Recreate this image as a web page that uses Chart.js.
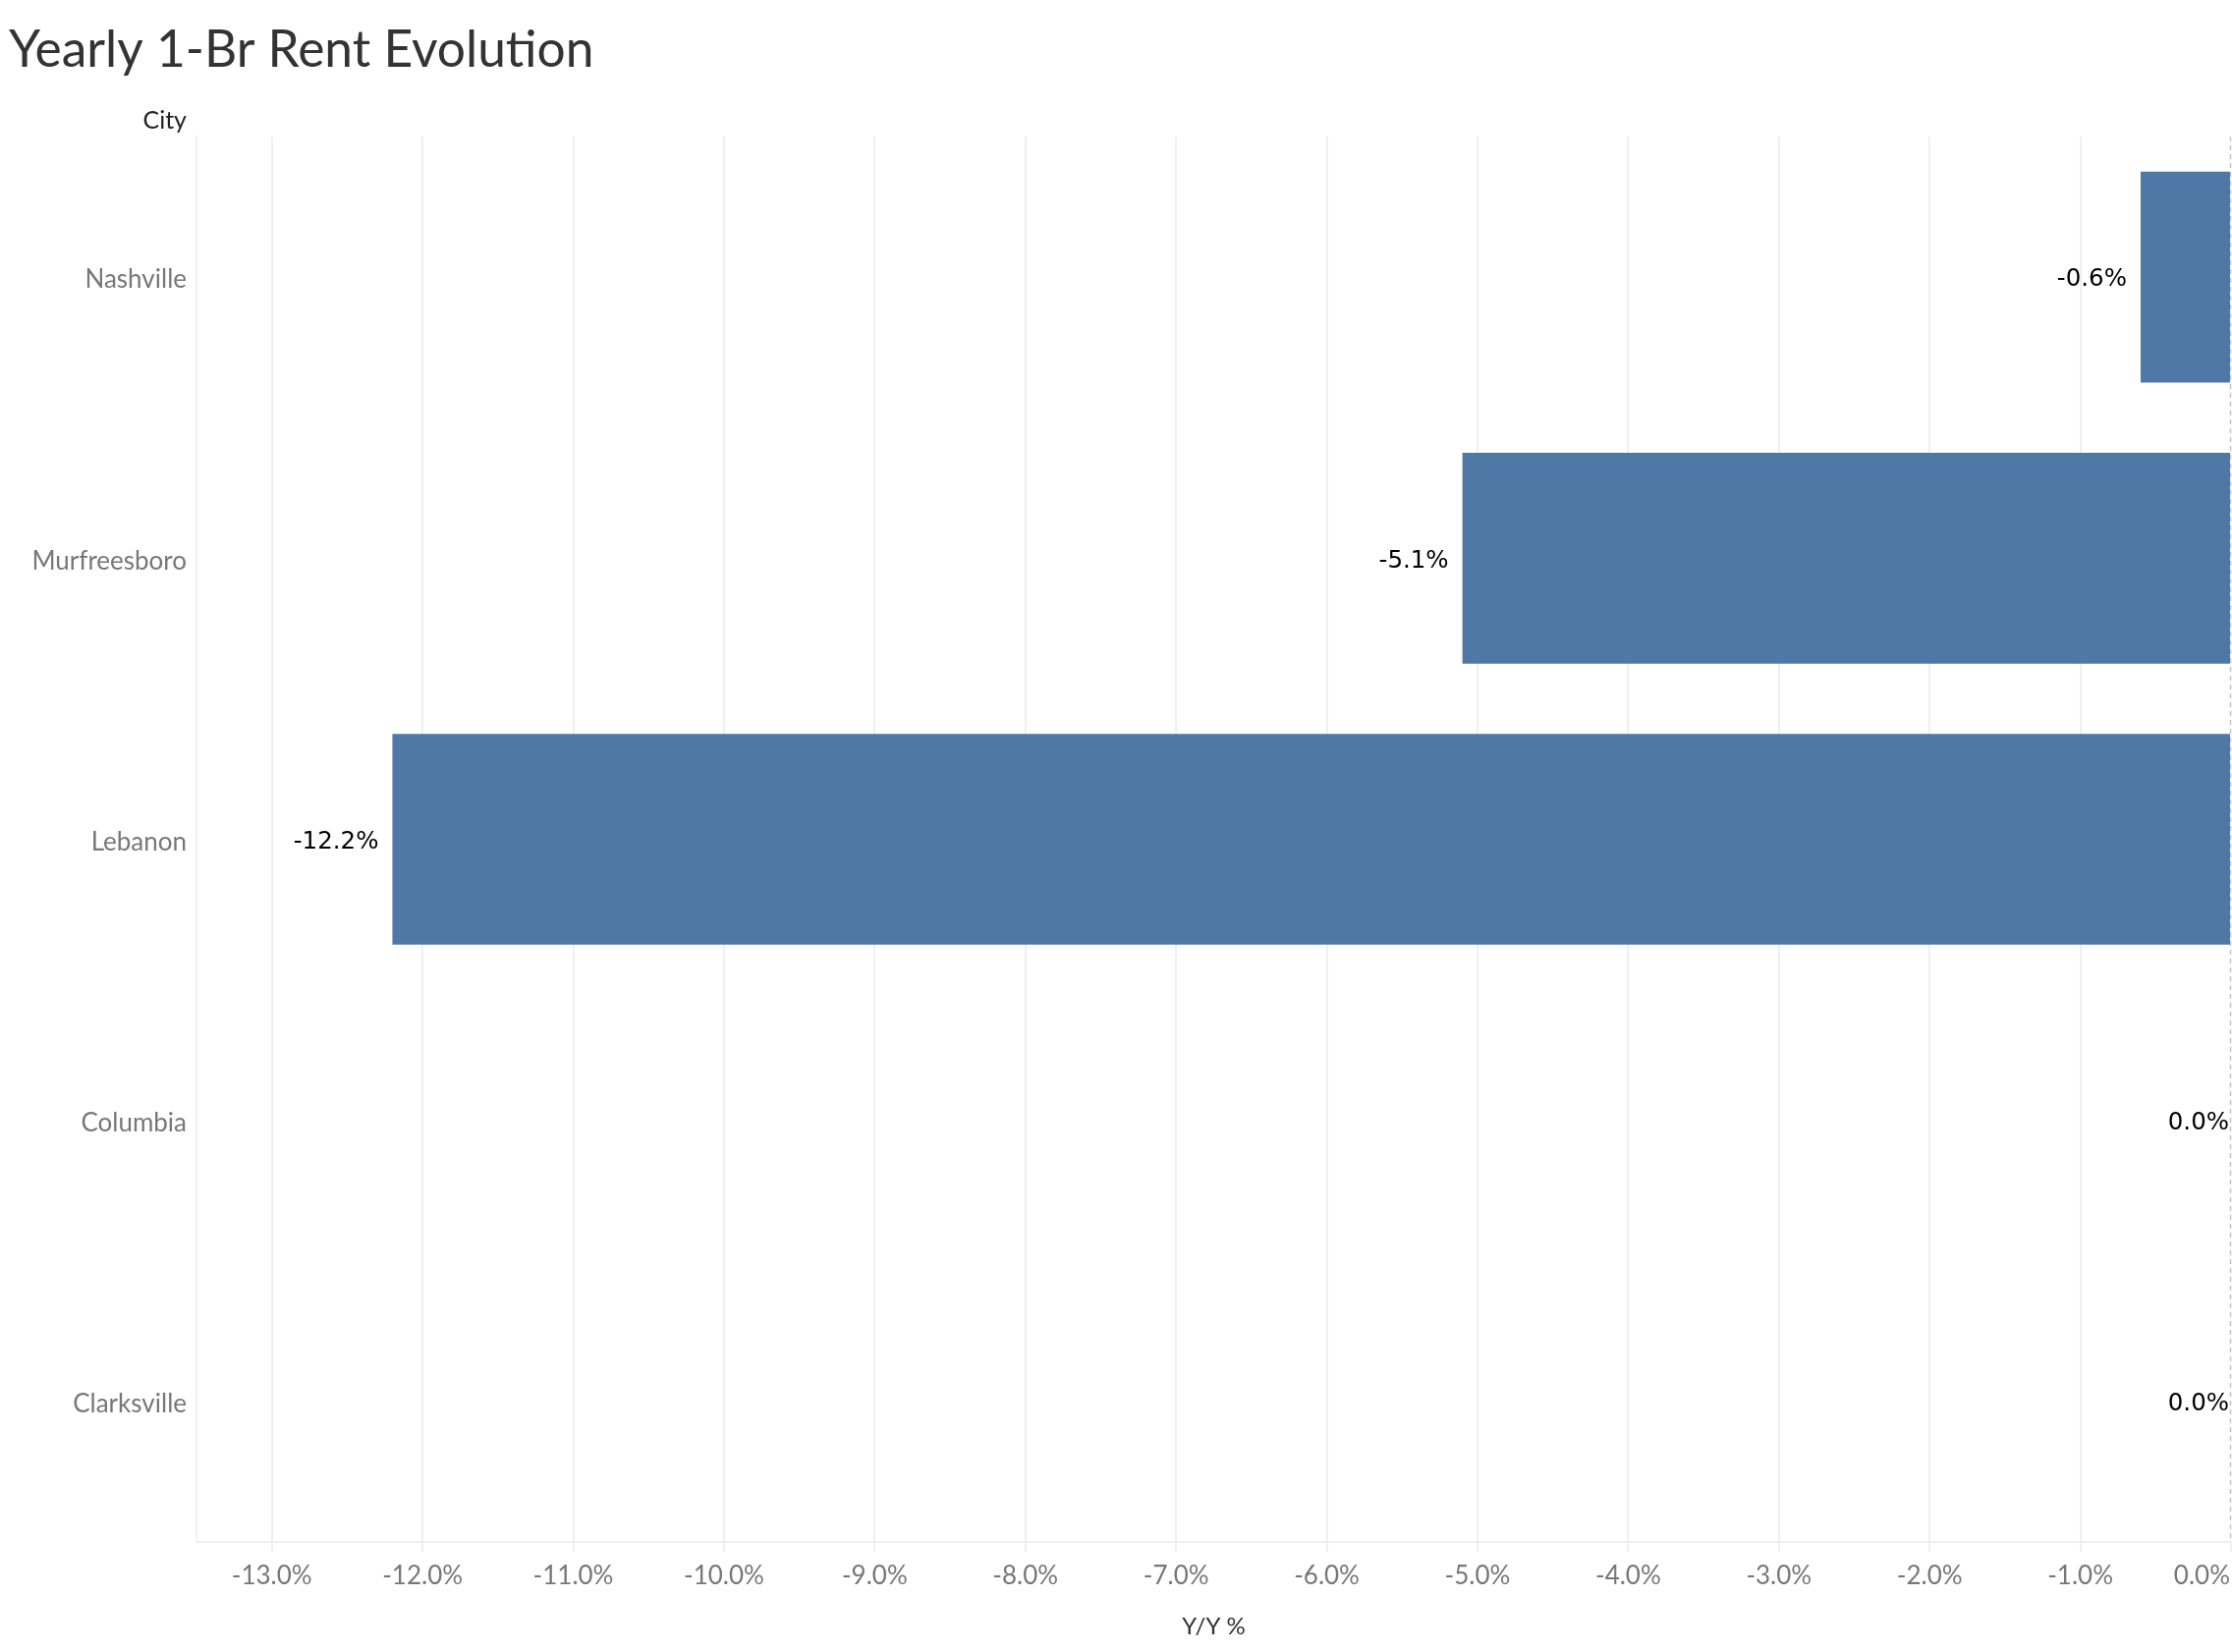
<!DOCTYPE html>
<html>
<head>
<meta charset="utf-8">
<script src="https://cdn.jsdelivr.net/npm/chart.js@4.4.1/dist/chart.umd.min.js"></script>
<style>
html,body{margin:0;padding:0;background:#fff;overflow:hidden;}
#wrap{position:relative;width:2272px;height:1682px;}
canvas{display:block;}
</style>
</head>
<body>
<div id="wrap"><canvas id="c" width="2272" height="1682"></canvas></div>
<script>
const titleText = 'Yearly 1-Br Rent Evolution';
const rowHeader = 'City';
const axisTitle = 'Y/Y %';
const categories = ['Nashville', 'Murfreesboro', 'Lebanon', 'Columbia', 'Clarksville'];
const values = [-0.6, -5.1, -12.2, 0.0, 0.0];
const tickValues = [-13, -12, -11, -10, -9, -8, -7, -6, -5, -4, -3, -2, -1, 0];
const tickLabels = ['-13.0%', '-12.0%', '-11.0%', '-10.0%', '-9.0%', '-8.0%', '-7.0%', '-6.0%', '-5.0%', '-4.0%', '-3.0%', '-2.0%', '-1.0%', '0.0%'];
const valueLabels = ['-0.6%', '-5.1%', '-12.2%', '0.0%', '0.0%'];

const LIGHT = 'Lato, "Open Sans", sans-serif';

const overlay = {
  id: 'overlay',
  beforeDatasetsDraw(chart) {
    const ctx = chart.ctx, x = chart.scales.x, ca = chart.chartArea;
    const zx = Math.round(x.getPixelForValue(0)) - 0.5;
    ctx.save();
    ctx.strokeStyle = '#c4c4c4';
    ctx.lineWidth = 1.5;
    ctx.setLineDash([5, 4]);
    ctx.beginPath();
    ctx.moveTo(zx, ca.top);
    ctx.lineTo(zx, ca.bottom);
    ctx.stroke();
    ctx.restore();
  },
  afterDraw(chart) {
    const ctx = chart.ctx, x = chart.scales.x, y = chart.scales.y, ca = chart.chartArea;
    ctx.save();
    // title
    ctx.fillStyle = '#333333';
    ctx.font = '51.5px ' + LIGHT;
    ctx.textAlign = 'left';
    ctx.textBaseline = 'alphabetic';
    ctx.fillText(titleText, 9, 68);
    // row header
    ctx.font = '25px ' + LIGHT;
    ctx.textAlign = 'right';
    ctx.textBaseline = 'middle';
    ctx.fillStyle = '#222222';
    ctx.fillText(rowHeader, 190, 123);
    // category labels
    ctx.fillStyle = '#777777';
    ctx.font = '26px ' + LIGHT;
    categories.forEach((c, i) => {
      ctx.fillText(c, 190, y.getPixelForValue(i) + 3);
    });
    // x tick labels
    ctx.fillStyle = '#777777';
    ctx.font = '26px ' + LIGHT;
    tickValues.forEach((v, i) => {
      const px = x.getPixelForValue(v);
      if (v === 0) { ctx.textAlign = 'right'; ctx.fillText(tickLabels[i], ca.right - 1, 1605); }
      else { ctx.textAlign = 'center'; ctx.fillText(tickLabels[i], px, 1605); }
    });
    // axis title
    ctx.fillStyle = '#333333';
    ctx.font = '24px ' + LIGHT;
    ctx.textAlign = 'center';
    ctx.fillText(axisTitle, (ca.left + ca.right) / 2, 1656);
    // value labels
    const meta = chart.getDatasetMeta(0);
    ctx.fillStyle = '#000000';
    ctx.font = '24.5px "DejaVu Sans", sans-serif';
    ctx.textAlign = 'right';
    meta.data.forEach((bar, i) => {
      const v = values[i];
      const lx = v < 0 ? bar.x - 14 : ca.right - 2;
      ctx.fillText(valueLabels[i], lx, bar.y + 3);
    });
    ctx.restore();
  }
};

new Chart(document.getElementById('c'), {
  type: 'bar',
  data: {
    labels: categories,
    datasets: [{
      data: values,
      backgroundColor: '#4e79a7',
      borderWidth: 0,
      barPercentage: 0.75,
      categoryPercentage: 1.0
    }]
  },
  options: {
    indexAxis: 'y',
    responsive: false,
    animation: false,
    devicePixelRatio: 1,
    layout: { padding: { left: 200, right: 1, top: 139, bottom: 102 } },
    plugins: { legend: { display: false }, tooltip: { enabled: false }, title: { display: false } },
    scales: {
      x: {
        type: 'linear',
        min: -13.5,
        max: 0,
        afterBuildTicks(scale) { scale.ticks = tickValues.map(v => ({ value: v })); },
        ticks: { display: false },
        grid: {
          color: (c) => (c.tick && c.tick.value === 0) ? 'rgba(0,0,0,0)' : '#efefef',
          lineWidth: 2,
          drawTicks: true,
          tickLength: 10,
          tickColor: '#efefef'
        },
        border: { display: true, color: '#efefef', width: 2 },
        title: { display: false }
      },
      y: {
        type: 'category',
        offset: true,
        ticks: { display: false },
        grid: { display: false, drawTicks: false },
        border: { display: true, color: '#f2f2f2', width: 2 }
      }
    }
  },
  plugins: [overlay]
});
</script>
</body>
</html>
